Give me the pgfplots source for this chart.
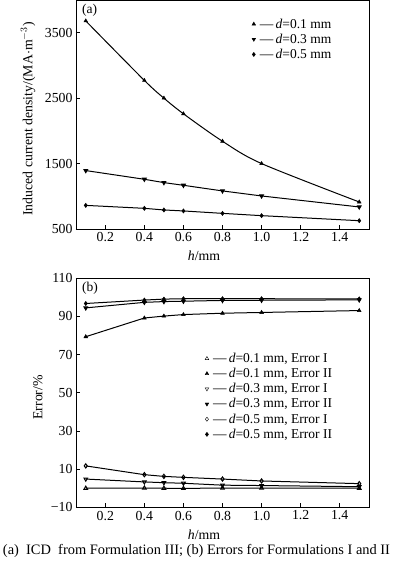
\documentclass[border=0pt]{standalone}
\usepackage{pgfplots}
\pgfplotsset{compat=1.18}
\usepackage{fontspec}
\setmainfont{Liberation Serif}
\begin{document}
\begin{tikzpicture}[x=1pt,y=1pt]
\useasboundingbox (0,0) rectangle (393,-562);
\pgfplotsset{
  every axis/.append style={
    scale only axis, width=293pt, height=229pt,
    xmin=0.05, xmax=1.55,
    xtick={0.2,0.4,0.6,0.8,1.0,1.2,1.4},
    xticklabels={0.2,0.4,0.6,0.8,1.0,1.2,1.4},
    tick align=inside, major tick length=4pt,
    xtick pos=bottom, ytick pos=left,
    axis line style={line width=0.9pt},
    tick style={line width=0.7pt, black},
    tick label style={font=\fontsize{13.8}{15}\selectfont},
    label style={font=\fontsize{13.8}{15}\selectfont},
    /pgf/number format/assume math mode=true,
    xlabel={\textit{h}/mm},
    xlabel style={at={(axis description cs:0.437,-0.118)}, anchor=center},
    legend cell align=left,
    legend style={draw=none, fill=none, font=\fontsize{13.5}{14}\selectfont, row sep=0.3pt, inner sep=0pt},
  },
  ln/.style={black, line width=1pt, mark size=2.1pt, mark options={solid, line width=0.5pt, fill=black}},
}
% ---------- (a) ----------
\begin{axis}[at={(76pt,0pt)}, anchor=north west,
  ymin=500, ymax=4000,
  ytick={500,1500,2500,3500},
  yticklabels={500,1500,2500,3500},
  ylabel={Induced current density/(MA$\cdot$m$^{-3}$)},
  ylabel style={at={(axis description cs:-0.164,0.48)}, anchor=center},
  legend style={at={(axis description cs:0.6,0.928)}, anchor=north west},
]
\addplot[ln, smooth, mark=triangle*, forget plot] coordinates {(0.1,3680)(0.4,2771)(0.5,2500)(0.6,2261)(0.8,1841)(1.0,1500)(1.5,913)};
\addplot[ln, mark=triangle*, mark options={rotate=180}, forget plot] coordinates {(0.1,1393)(0.4,1260)(0.5,1209)(0.6,1168)(0.8,1082)(1.0,1005)(1.5,837)};
\addplot[ln, mark=diamond*, forget plot] coordinates {(0.1,861)(0.4,816)(0.5,791)(0.6,776)(0.8,739)(1.0,704)(1.5,627)};
\addlegendimage{only marks, black, mark=triangle*, mark size=2.1pt}
\addlegendentry{\,—\,\textit{d}=0.1 mm}
\addlegendimage{only marks, black, mark=triangle*, mark size=2.1pt, mark options={rotate=180}}
\addlegendentry{\,—\,\textit{d}=0.3 mm}
\addlegendimage{only marks, black, mark=diamond*, mark size=2.1pt}
\addlegendentry{\,—\,\textit{d}=0.5 mm}
\node[anchor=north west, font=\fontsize{13.5}{15}\selectfont, inner sep=0pt] at (axis description cs:0.02,0.985) {(a)};
\end{axis}
% ---------- (b) ----------
\begin{axis}[at={(76pt,-278.3pt)}, anchor=north west,
  ymin=-10, ymax=110,
  ytick={-10,10,30,50,70,90,110},
  yticklabels={−10,10,30,50,70,90,110},
  ylabel={Error/\%},
  ylabel style={at={(axis description cs:-0.13,0.48)}, anchor=center},
  legend style={at={(axis description cs:0.44,0.683)}, anchor=north west},
]
\addplot[ln, mark=triangle, mark options={fill=white}, forget plot] coordinates {(0.1,0)(0.4,0.1)(0.5,0)(0.6,-0.1)(0.8,0.1)(1.0,0.1)(1.5,0)};
\addplot[ln, mark=triangle*, forget plot] coordinates {(0.1,79.4)(0.4,89.2)(0.5,90.2)(0.6,91.0)(0.8,91.7)(1.0,92.1)(1.5,93.1)};
\addplot[ln, mark=triangle, mark options={rotate=180, fill=white}, forget plot] coordinates {(0.1,4.8)(0.4,3.3)(0.5,2.9)(0.6,2.6)(0.8,1.6)(1.0,1.4)(1.5,0.8)};
\addplot[ln, mark=triangle*, mark options={rotate=180}, forget plot] coordinates {(0.1,94.5)(0.4,97.4)(0.5,97.8)(0.6,98.0)(0.8,98.4)(1.0,98.5)(1.5,98.7)};
\addplot[ln, mark=diamond, mark options={fill=white}, forget plot] coordinates {(0.1,11.7)(0.4,7.1)(0.5,6.2)(0.6,5.7)(0.8,4.8)(1.0,3.8)(1.5,2.4)};
\addplot[ln, mark=diamond*, forget plot] coordinates {(0.1,96.8)(0.4,98.6)(0.5,99.1)(0.6,99.3)(0.8,99.3)(1.0,99.3)(1.5,99.2)};
\addlegendimage{only marks, black, mark=triangle, mark size=2.1pt}
\addlegendentry{\,—\,\textit{d}=0.1 mm, Error I}
\addlegendimage{only marks, black, mark=triangle*, mark size=2.1pt}
\addlegendentry{\,—\,\textit{d}=0.1 mm, Error II}
\addlegendimage{only marks, black, mark=triangle, mark size=2.1pt, mark options={rotate=180}}
\addlegendentry{\,—\,\textit{d}=0.3 mm, Error I}
\addlegendimage{only marks, black, mark=triangle*, mark size=2.1pt, mark options={rotate=180}}
\addlegendentry{\,—\,\textit{d}=0.3 mm, Error II}
\addlegendimage{only marks, black, mark=diamond, mark size=2.1pt}
\addlegendentry{\,—\,\textit{d}=0.5 mm, Error I}
\addlegendimage{only marks, black, mark=diamond*, mark size=2.1pt}
\addlegendentry{\,—\,\textit{d}=0.5 mm, Error II}
\node[anchor=north west, font=\fontsize{13.5}{15}\selectfont, inner sep=0pt] at (axis description cs:0.02,0.985) {(b)};
\end{axis}
\node[anchor=center, inner sep=0pt] at (196.5,-551) {\resizebox{387pt}{!}{(a)\ \ ICD\ \ from Formulation III; (b) Errors for Formulations I and II}};
\end{tikzpicture}
\end{document}
